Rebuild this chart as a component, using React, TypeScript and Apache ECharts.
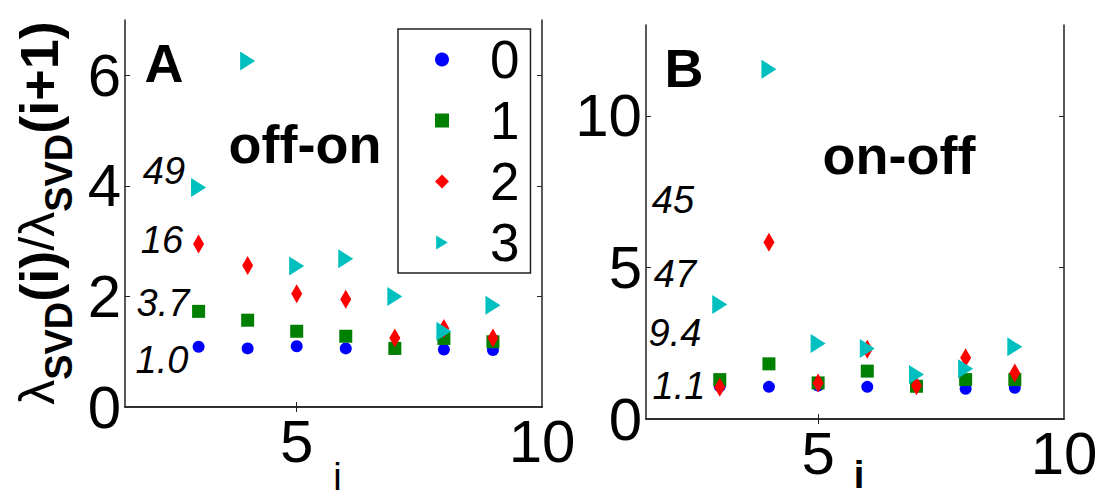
import React, { useEffect, useRef } from "react";
import * as echarts from "echarts";

// ---- data ----
const indices = [3, 4, 5, 6, 7, 8, 9];
const seriesNames = ["0", "1", "2", "3"];

const offOn0 = [1.09, 1.06, 1.1, 1.06, 1.05, 1.04, 1.03];
const offOn1 = [1.73, 1.57, 1.37, 1.28, 1.06, 1.24, 1.18];
const offOn2 = [2.95, 2.56, 2.05, 1.95, 1.25, 1.42, 1.25];
const offOn3 = [3.97, 6.26, 2.55, 2.68, 2.0, 1.37, 1.84];

const onOff0 = [1.08, 1.06, 1.1, 1.06, 1.08, 1.0, 1.03];
const onOff1 = [1.3, 1.82, 1.19, 1.58, 1.08, 1.3, 1.3];
const onOff2 = [1.05, 5.83, 1.19, 2.3, 1.1, 2.02, 1.52];
const onOff3 = [3.78, 11.54, 2.49, 2.33, 1.47, 1.66, 2.38];

const leftYTicks = [0, 2, 4, 6];
const rightYTicks = [0, 5, 10];
const xTicks = [5, 10];

const offOnNotes = ["49", "16", "3.7", "1.0"];
const onOffNotes = ["45", "47", "9.4", "1.1"];

// ---- layout / style ----
const FONT = "'Liberation Sans', Arial, Helvetica, sans-serif";
const COLORS = ["#0000ff", "#008000", "#ff0000", "#00bfbf"];
const SYMBOLS = ["circle", "rect", "diamond", "triangle"];
const SIZES: any[] = [12, 13, [11, 19], [19, 15]];
const ROTATE = [0, 0, 0, -90];
const LEGEND_ICONS = ["circle", "rect", "diamond", "path://M0,0 L10,6 L0,12 Z"];
const leftNotePos = [
  [164, 171],
  [162, 240],
  [163, 303],
  [162, 360],
];
const rightNotePos = [
  [673, 200],
  [675, 274],
  [675, 333],
  [679, 386],
];

function makeSeries(values: number[][], gridIndex: number) {
  return values.map((vals, k) => ({
    type: "scatter",
    name: seriesNames[k],
    xAxisIndex: gridIndex * 2,
    yAxisIndex: gridIndex * 2,
    data: indices.map((x, j) => [x, vals[j]]),
    symbol: SYMBOLS[k],
    symbolSize: SIZES[k],
    symbolRotate: ROTATE[k],
    itemStyle: { color: COLORS[k], opacity: 1 },
    z: 3 + k,
  }));
}

function xAxes(gridIndex: number, nameBold: boolean, nameGap: number) {
  return [
    {
      type: "value",
      gridIndex,
      position: "bottom",
      min: 1.5,
      max: 10,
      axisLine: { show: true, lineStyle: { color: "#222", width: 1.5 } },
      axisTick: { show: true, inside: true, length: 5, customValues: [5], lineStyle: { color: "#222" } },
      axisLabel: { customValues: xTicks, fontSize: 60, fontFamily: FONT, color: "#000", margin: 4 },
      splitLine: { show: false },
      name: "i",
      nameLocation: "middle",
      nameGap,
      nameMoveOverlap: false,
      nameTextStyle: {
        fontSize: 38,
        fontFamily: FONT,
        color: "#000",
        fontWeight: nameBold ? "bold" : "normal",
        padding: [0, 0, 0, 8],
      },
    },
    {
      type: "value",
      gridIndex,
      position: "top",
      min: 1.5,
      max: 10,
      axisLine: { show: true, lineStyle: { color: "#222", width: 1.5 } },
      axisTick: { show: true, inside: true, length: 5, customValues: [5], lineStyle: { color: "#222" } },
      axisLabel: { show: false },
      splitLine: { show: false },
    },
  ];
}

function yAxes(gridIndex: number, max: number, ticks: number[]) {
  const inner = ticks.filter((t) => t > 0);
  return [
    {
      type: "value",
      gridIndex,
      position: "left",
      min: 0,
      max,
      axisLine: { show: true, lineStyle: { color: "#222", width: 1.5 } },
      axisTick: { show: true, inside: true, length: 5, customValues: inner, lineStyle: { color: "#222" } },
      axisLabel: { customValues: ticks, fontSize: 60, fontFamily: FONT, color: "#000", margin: 4 },
      splitLine: { show: false },
    },
    {
      type: "value",
      gridIndex,
      position: "right",
      min: 0,
      max,
      axisLine: { show: true, lineStyle: { color: "#222", width: 1.5 } },
      axisTick: { show: true, inside: true, length: 5, customValues: inner, lineStyle: { color: "#222" } },
      axisLabel: { show: false },
      splitLine: { show: false },
    },
  ];
}

function noteTexts(notes: string[], pos: number[][]) {
  return notes.map((t, i) => ({
    type: "text",
    x: pos[i][0],
    y: pos[i][1],
    style: {
      text: t,
      font: `italic 38px ${FONT}`,
      fill: "#000",
      align: "center",
      verticalAlign: "middle",
    },
  }));
}

function bigText(t: string, x: number, y: number, size: number) {
  return {
    type: "text",
    x,
    y,
    style: { text: t, font: `bold ${size}px ${FONT}`, fill: "#000", align: "center", verticalAlign: "middle" },
  };
}

export default function App() {
  const ref = useRef<HTMLDivElement>(null);
  useEffect(() => {
    document.body.style.margin = "0";
    if (!ref.current) return;
    const chart = echarts.init(ref.current, undefined, { renderer: "svg" });
    const xa = [...xAxes(0, false, 51), ...xAxes(1, true, 37)];
    const ya = [...yAxes(0, 7, leftYTicks), ...yAxes(1, 13, rightYTicks)];
    const series = [
      ...makeSeries([offOn0, offOn1, offOn2, offOn3], 0),
      ...makeSeries([onOff0, onOff1, onOff2, onOff3], 1),
    ];
    chart.setOption({
      animation: false,
      backgroundColor: "#ffffff",
      grid: [
        { left: 125, top: 20, width: 417, height: 387, outerBoundsMode: "none", containLabel: false },
        { left: 646, top: 25, width: 418, height: 394, outerBoundsMode: "none", containLabel: false },
      ],
      xAxis: xa,
      yAxis: ya,
      legend: {
        data: seriesNames.map((n, k) => ({
          name: n,
          icon: LEGEND_ICONS[k],
          itemStyle: { color: COLORS[k] },
        })),
        orient: "vertical",
        left: 398,
        top: 29,
        padding: [4, 11, 4, 37],
        itemGap: 8,
        itemWidth: 14,
        itemHeight: 14,
        selectedMode: false,
        backgroundColor: "#fff",
        borderColor: "#222",
        borderWidth: 1.5,
        textStyle: { fontSize: 53, fontFamily: FONT, color: "#000", lineHeight: 49, padding: [0, 0, 0, 36] },
      },
      series,
      graphic: [
        bigText("A", 164, 63, 54),
        bigText("off-on", 305, 144, 54),
        bigText("B", 684, 68, 54),
        bigText("on-off", 899, 155, 54),
        ...noteTexts(offOnNotes, leftNotePos),
        ...noteTexts(onOffNotes, rightNotePos),
        {
          type: "text",
          x: 39,
          y: 213,
          rotation: Math.PI / 2,
          style: {
            text: "{l|λ}{s|SVD}{b|(i)}{l|/}{l|λ}{s|SVD}{b|(i+1)}",
            align: "center",
            verticalAlign: "middle",
            fill: "#000",
            rich: {
              l: { fontSize: 50, fontFamily: FONT, lineHeight: 54, verticalAlign: "top", fill: "#000" },
              b: { fontSize: 54, fontWeight: "bold", fontFamily: FONT, lineHeight: 54, verticalAlign: "top", fill: "#000" },
              s: {
                fontSize: 38,
                fontWeight: "bold",
                fontFamily: FONT,
                lineHeight: 38,
                padding: [28, 0, 0, 0],
                verticalAlign: "top",
                fill: "#000",
              },
            },
          },
        },
      ],
    });
    return () => chart.dispose();
  }, []);
  return <div ref={ref} style={{ width: 1101, height: 501 }} />;
}
